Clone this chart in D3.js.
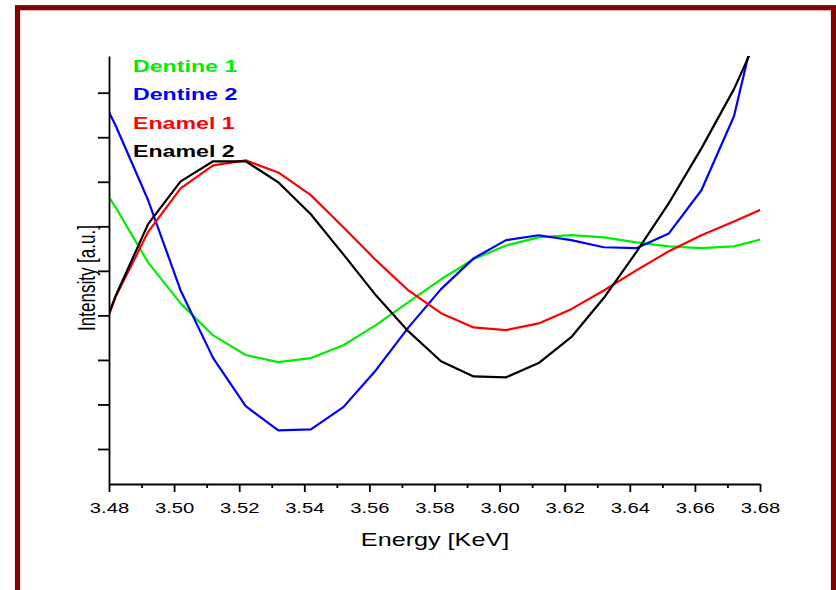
<!DOCTYPE html>
<html>
<head>
<meta charset="utf-8">
<script src="https://cdn.jsdelivr.net/npm/d3@7"></script>
<style>
  html, body { margin: 0; padding: 0; background: #fff; }
  svg { display: block; }
  text { font-family: Arial, "Liberation Sans", sans-serif; }
</style>
</head>
<body>
<svg id="chart" width="836" height="590"></svg>
<script>
// Energy channels (keV)
const energy = [3.472, 3.482, 3.492, 3.502, 3.512, 3.522, 3.532, 3.542, 3.552, 3.562, 3.572,
                3.582, 3.592, 3.602, 3.612, 3.622, 3.632, 3.642, 3.652, 3.662, 3.672, 3.682];

// Intensities (a.u.)
const dentine1 = [7.51, 6.43, 5.19, 4.27, 3.55, 3.11, 2.95, 3.04, 3.33, 3.78, 4.30,
                  4.81, 5.26, 5.57, 5.75, 5.80, 5.75, 5.64, 5.55, 5.51, 5.55, 5.74];
const dentine2 = [9.73, 8.27, 6.59, 4.56, 3.04, 1.96, 1.42, 1.44, 1.94, 2.77, 3.73,
                  4.59, 5.28, 5.69, 5.80, 5.69, 5.53, 5.51, 5.84, 6.81, 8.47, 11.55];
const enamel1  = [2.43, 4.41, 5.87, 6.85, 7.37, 7.48, 7.21, 6.70, 5.98, 5.24, 4.56,
                  4.05, 3.73, 3.67, 3.82, 4.14, 4.56, 5.01, 5.44, 5.80, 6.11, 6.43];
const enamel2  = [2.52, 4.43, 6.05, 7.01, 7.46, 7.46, 6.99, 6.27, 5.37, 4.45, 3.64,
                  2.97, 2.63, 2.61, 2.93, 3.51, 4.39, 5.42, 6.52, 7.75, 9.08, 10.69];

const seriesNames  = ["Dentine 1", "Dentine 2", "Enamel 1", "Enamel 2"];
const seriesColors = ["#00ee00", "#0000ff", "#ff0000", "#000000"];
const seriesValues = [dentine1, dentine2, enamel1, enamel2];

const xMajorTicks = [3.48, 3.50, 3.52, 3.54, 3.56, 3.58, 3.60, 3.62, 3.64, 3.66, 3.68];
const xMinorTicks = [3.49, 3.51, 3.53, 3.55, 3.57, 3.59, 3.61, 3.63, 3.65, 3.67];
const yTicks = [1, 2, 3, 4, 5, 6, 7, 8, 9];

const svg = d3.select("#chart");

// outer frame
svg.append("rect")
  .attr("x", 17.5).attr("y", 7.7)
  .attr("width", 816).attr("height", 620)
  .attr("fill", "none")
  .attr("stroke", "#850000")
  .attr("stroke-width", 5.2);

const plot = { left: 109, right: 760, top: 56, bottom: 484 };
const x = d3.scaleLinear().domain([3.48, 3.68]).range([plot.left, plot.right]);
const y = d3.scaleLinear().domain([0.214, 9.824]).range([plot.bottom, plot.top]);

svg.append("clipPath").attr("id", "plotClip")
  .append("rect")
  .attr("x", plot.left).attr("y", plot.top)
  .attr("width", plot.right - plot.left).attr("height", plot.bottom - plot.top);

// curves
const line = d3.line()
  .x((d, i) => x(energy[i]))
  .y(d => y(d));

const curves = svg.append("g").attr("clip-path", "url(#plotClip)");
seriesValues.forEach((vals, k) => {
  curves.append("path")
    .datum(vals)
    .attr("d", line)
    .attr("fill", "none")
    .attr("stroke", seriesColors[k])
    .attr("stroke-width", 2.2)
    .attr("stroke-linejoin", "round");
});

// x axis: minor then major ticks
const xMinor = svg.append("g")
  .attr("transform", `translate(0,${plot.bottom})`)
  .call(d3.axisBottom(x).tickValues(xMinorTicks).tickSize(4).tickFormat(""));
xMinor.select(".domain").remove();

const xAxis = svg.append("g")
  .attr("transform", `translate(0,${plot.bottom})`)
  .call(d3.axisBottom(x).tickValues(xMajorTicks).tickSize(8).tickSizeOuter(0)
        .tickPadding(10).tickFormat(d3.format(".2f")));

xAxis.selectAll("text")
  .attr("font-size", 15)
  .attr("fill", "#000")
  .attr("transform", "scale(1.35,1)");

// y axis
svg.append("g")
  .attr("transform", `translate(${plot.left},0)`)
  .call(d3.axisLeft(y).tickValues(yTicks).tickSize(11).tickSizeOuter(0).tickFormat(""));

svg.selectAll(".domain, .tick line")
  .attr("stroke", "#000")
  .attr("stroke-width", 1.8);

// axis titles
svg.append("text")
  .attr("transform", "translate(435,546) scale(1.4,1)")
  .attr("text-anchor", "middle")
  .attr("font-size", 18)
  .attr("fill", "#000")
  .text("Energy [KeV]");

svg.append("text")
  .attr("transform", "translate(95,278) scale(1.4,1) rotate(-90)")
  .attr("text-anchor", "middle")
  .attr("font-size", 17)
  .attr("fill", "#000")
  .text("Intensity [a.u.]");

// legend
const legend = svg.append("g");
seriesNames.forEach((name, k) => {
  legend.append("text")
    .attr("transform", `translate(133,${72.3 + k * 28.1}) scale(1.45,1)`)
    .attr("font-size", 16)
    .attr("font-weight", "bold")
    .attr("fill", seriesColors[k])
    .text(name);
});
</script>
</body>
</html>
